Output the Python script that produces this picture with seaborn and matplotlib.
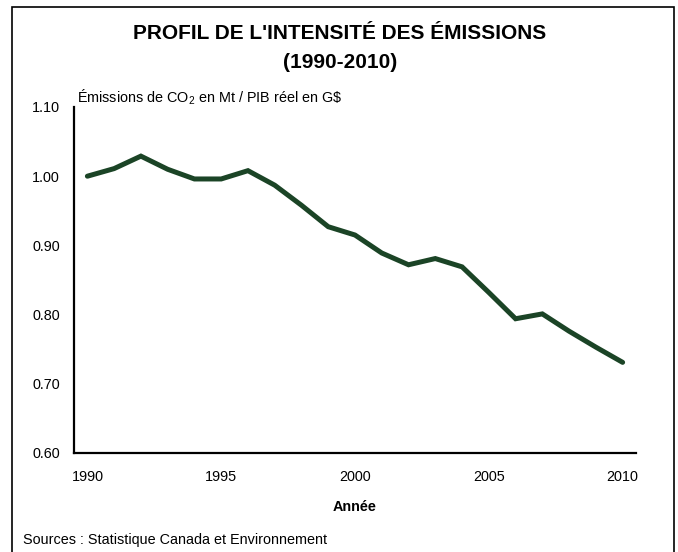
import matplotlib
matplotlib.use("Agg")
import matplotlib.pyplot as plt
import seaborn as sns
import pandas as pd
from matplotlib.patches import Rectangle

# --- DATA ---
years = list(range(1990, 2011))
intensity = [1.000, 1.011, 1.029, 1.010, 0.996, 0.996, 1.008, 0.987, 0.958,
             0.927, 0.915, 0.889, 0.872, 0.881, 0.869, 0.832, 0.794, 0.801,
             0.776, 0.753, 0.731]
y_ticks = [0.60, 0.70, 0.80, 0.90, 1.00, 1.10]
x_ticks = [1990, 1995, 2000, 2005, 2010]

TITLE = "PROFIL DE L'INTENSITÉ DES ÉMISSIONS\n(1990-2010)"
Y_LABEL = r"Émissions de CO$_2$ en Mt / PIB réel en G\$"
X_LABEL = "Année"
SOURCE = "Sources : Statistique Canada et Environnement"

LINE_COLOR = "#1b4426"
SMALL = 10.4

sns.set_style("white")
plt.rcParams['font.family'] = ['Liberation Sans', 'DejaVu Sans']
plt.rcParams['text.color'] = 'black'
plt.rcParams['mathtext.fontset'] = 'custom'
plt.rcParams['mathtext.rm'] = 'Liberation Sans'
plt.rcParams['mathtext.it'] = 'Liberation Sans'

df = pd.DataFrame({'Année': years, 'Intensité': intensity})

fig = plt.figure(figsize=(6.78, 5.52), dpi=100)
ax = fig.add_axes([74 / 678, 1 - 453 / 552, 562 / 678, 346 / 552])

sns.lineplot(data=df, x='Année', y='Intensité', ax=ax, color=LINE_COLOR,
             linewidth=3.6, solid_joinstyle='miter')

ax.set_xlim(1989.5, 2010.5)
ax.set_ylim(0.60, 1.10)
ax.set_xticks(x_ticks)
ax.set_yticks(y_ticks)
ax.set_yticklabels([f"{v:.2f}" for v in y_ticks])
ax.tick_params(axis='both', length=0, labelsize=SMALL, colors='black')
ax.tick_params(axis='x', pad=12)
ax.tick_params(axis='y', pad=10)
ax.set_xlabel("")
ax.set_ylabel("")

for side in ['top', 'right']:
    ax.spines[side].set_visible(False)
for side in ['left', 'bottom']:
    ax.spines[side].set_color('black')
    ax.spines[side].set_linewidth(1.6)

# titles and notes
fig.text(340 / 678, 1 - 48 / 552, TITLE, ha='center', va='center',
         fontsize=15, fontweight='bold', linespacing=1.65)
fig.text(77 / 678, 1 - 97 / 552, Y_LABEL, ha='left', va='center', fontsize=SMALL)
fig.text(355 / 678, 1 - 507 / 552, X_LABEL, ha='center', va='center',
         fontsize=SMALL, fontweight='bold')
fig.text(23 / 678, 1 - 540 / 552, SOURCE, ha='left', va='center', fontsize=SMALL)

# outer frame, cut off at the bottom like the original
fig.patches.append(Rectangle((11.5 / 678, -0.05), 662.5 / 678, 1.05 - 7.5 / 552,
                             transform=fig.transFigure, fill=False,
                             edgecolor='black', linewidth=1.2))

fig.savefig("out.png", dpi=100)
